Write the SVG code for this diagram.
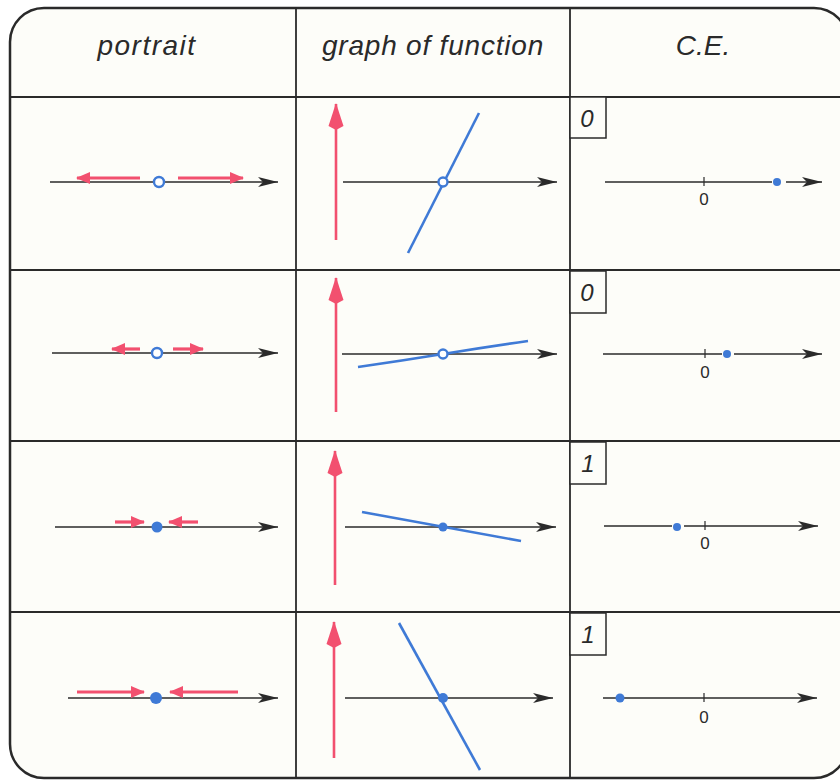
<svg xmlns="http://www.w3.org/2000/svg" width="840" height="780" viewBox="0 0 840 780">
<style>
.frame{fill:#fdfdf9;stroke:#2a2a2a;stroke-width:2.5}
.grid{stroke:#2a2a2a;stroke-width:1.8;fill:none}
.axis{stroke:#2a2a2a;stroke-width:1.6;fill:none;marker-end:url(#ah)}
.tick{stroke:#2a2a2a;stroke-width:1.2}
.red{stroke:#f2506f;stroke-width:3.2;fill:none;marker-end:url(#rh)}
.redv{stroke:#f2506f;stroke-width:2.6;fill:none;marker-end:url(#rv)}
.blue{stroke:#3f7ad6;stroke-width:2.6;fill:none}
.open{fill:#ffffff;stroke:#3f7ad6;stroke-width:2.4}
.dot{fill:#3f7ad6}
.hd{font-family:"Liberation Sans",Arial,sans-serif;font-style:italic;font-size:28px;fill:#2a2a2a;text-anchor:middle}
.lbl{font-family:"Liberation Sans",Arial,sans-serif;font-style:italic;font-size:24px;fill:#2a2a2a;text-anchor:middle}
.zero{font-family:"Liberation Sans",Arial,sans-serif;font-size:17px;fill:#2a2a2a;text-anchor:middle}
.box{fill:#fdfdf9;stroke:#2a2a2a;stroke-width:1.5}
</style>
<defs>
<marker id="ah" markerUnits="userSpaceOnUse" markerWidth="22" markerHeight="12" refX="20" refY="6" orient="auto">
<path d="M0,1 L20,6 L0,11 L5,6 z" fill="#2a2a2a"/>
</marker>
<marker id="rh" markerUnits="userSpaceOnUse" markerWidth="16" markerHeight="14" refX="13" refY="7" orient="auto">
<path d="M0,1 L14,7 L0,13 z" fill="#f2506f"/>
</marker>
<marker id="rv" markerUnits="userSpaceOnUse" markerWidth="28" markerHeight="16" refX="26" refY="8" orient="auto">
<path d="M0,8 L4,0.5 L27,8 L4,15.5 z" fill="#f2506f"/>
</marker>
</defs>
<rect width="840" height="780" fill="#ffffff"/>
<g id="table">
<path class="frame" d="M44,8 H814 A34,34 0 0 1 848,42 V744 A34,34 0 0 1 814,778 H44 A34,34 0 0 1 10,744 V42 A34,34 0 0 1 44,8 Z"/>
<line class="grid" x1="10" y1="97" x2="840" y2="97"/>
<line class="grid" x1="10" y1="270" x2="840" y2="270"/>
<line class="grid" x1="10" y1="441" x2="840" y2="441"/>
<line class="grid" x1="10" y1="612" x2="840" y2="612"/>
<line class="grid" x1="296" y1="8" x2="296" y2="778"/>
<line class="grid" x1="570" y1="8" x2="570" y2="778"/>
</g>
<g id="headers">
<text class="hd" x="147" y="55" letter-spacing="1.5">portrait</text>
<text class="hd" x="433" y="55" letter-spacing="0.8">graph of function</text>
<text class="hd" x="703" y="55" font-style="normal" font-size="30">C.E.</text>
</g>
<g id="connectors">
<!-- row 1 -->
<line class="axis" x1="50" y1="182" x2="278" y2="182"/>
<line class="red" x1="140" y1="178" x2="77" y2="178"/>
<line class="red" x1="178" y1="178" x2="243" y2="178"/>
<line class="redv" x1="336" y1="240" x2="336" y2="104"/>
<line class="axis" x1="343" y1="182" x2="557" y2="182"/>
<line class="blue" x1="408" y1="253" x2="479" y2="113"/>
<line class="axis" x1="605" y1="182" x2="772" y2="182" style="marker-end:none"/>
<line class="axis" x1="786" y1="182" x2="822" y2="182"/>
<line class="tick" x1="704" y1="177" x2="704" y2="186"/>
<!-- row 2 -->
<line class="axis" x1="52" y1="353" x2="278" y2="353"/>
<line class="red" x1="140" y1="349" x2="112" y2="349"/>
<line class="red" x1="173" y1="349" x2="203" y2="349"/>
<line class="redv" x1="336" y1="412" x2="336" y2="278"/>
<line class="axis" x1="342" y1="354" x2="557" y2="354"/>
<path class="blue" d="M358,367 Q400,361 443,354 Q485,347 528,341"/>
<line class="axis" x1="603" y1="354" x2="722" y2="354" style="marker-end:none"/>
<line class="axis" x1="734" y1="354" x2="822" y2="354"/>
<line class="tick" x1="705" y1="349" x2="705" y2="358"/>
<!-- row 3 -->
<line class="axis" x1="55" y1="527" x2="278" y2="527"/>
<line class="red" x1="115" y1="522" x2="144" y2="522"/>
<line class="red" x1="198" y1="522" x2="169" y2="522"/>
<line class="redv" x1="335" y1="585" x2="335" y2="451"/>
<line class="axis" x1="345" y1="527" x2="556" y2="527"/>
<line class="blue" x1="362" y1="512" x2="521" y2="541"/>
<line class="axis" x1="604" y1="526" x2="672" y2="526" style="marker-end:none"/>
<line class="axis" x1="684" y1="526" x2="818" y2="526"/>
<line class="tick" x1="705" y1="521" x2="705" y2="530"/>
<!-- row 4 -->
<line class="axis" x1="68" y1="698" x2="278" y2="698"/>
<line class="red" x1="77" y1="692" x2="144" y2="692"/>
<line class="red" x1="238" y1="692" x2="170" y2="692"/>
<line class="redv" x1="334" y1="758" x2="334" y2="622"/>
<line class="axis" x1="345" y1="698" x2="553" y2="698"/>
<line class="blue" x1="399" y1="623" x2="480" y2="770"/>
<line class="axis" x1="603" y1="698" x2="817" y2="698"/>
<line class="tick" x1="704" y1="693" x2="704" y2="702"/>
</g>
<g id="row1">
<circle class="open" cx="159" cy="182" r="5"/>
<circle class="open" cx="443" cy="182" r="4.5"/>
<rect class="box" x="570" y="97" width="36" height="41"/>
<text class="lbl" x="587" y="127">0</text>
<circle class="dot" cx="777" cy="182" r="4"/>
<text class="zero" x="704" y="205">0</text>
</g>
<g id="row2">
<circle class="open" cx="157" cy="353" r="5"/>
<circle class="open" cx="443" cy="354" r="4.5"/>
<rect class="box" x="570" y="271" width="36" height="42"/>
<text class="lbl" x="587" y="301">0</text>
<circle class="dot" cx="727" cy="354" r="4"/>
<text class="zero" x="705" y="378">0</text>
</g>
<g id="row3">
<circle class="dot" cx="157" cy="527" r="5.5"/>
<circle class="dot" cx="443" cy="527" r="4.5"/>
<rect class="box" x="570" y="442" width="36" height="42"/>
<text class="lbl" x="588" y="472">1</text>
<circle class="dot" cx="677" cy="527" r="4"/>
<text class="zero" x="705" y="549">0</text>
</g>
<g id="row4">
<circle class="dot" cx="156" cy="698" r="6"/>
<circle class="dot" cx="443" cy="698" r="5"/>
<rect class="box" x="570" y="613" width="36" height="42"/>
<text class="lbl" x="588" y="643">1</text>
<circle class="dot" cx="620" cy="698" r="4.5"/>
<text class="zero" x="704" y="723">0</text>
</g>
</svg>
